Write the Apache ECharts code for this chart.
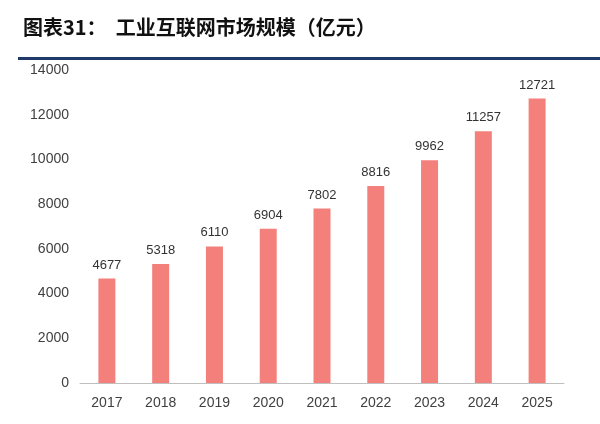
<!DOCTYPE html>
<html><head><meta charset="utf-8">
<script src="https://cdn.jsdelivr.net/npm/echarts@6/dist/echarts.min.js"></script>
<style>html,body{margin:0;padding:0;background:#fff}#c{width:600px;height:424px}</style>
</head><body><div id="c"></div>
<script>
const categories = ['2017','2018','2019','2020','2021','2022','2023','2024','2025'];
const marketSize = [4677,5318,6110,6904,7802,8816,9962,11257,12721];
const titleText = '图表31：  工业互联网市场规模（亿元）';

const chart = echarts.init(document.getElementById('c'));
chart.setOption({
  animation:false,
  backgroundColor:'#fff',
  title:{text:titleText,left:18,top:12,textStyle:{fontFamily:'Noto Sans CJK SC',fontSize:20,fontWeight:'bold',color:'#111'}},
  graphic:[{type:'rect',shape:{x:18,y:57,width:582,height:3},style:{fill:'#1f3a68'}}],
  grid:{left:80,right:36,top:70,bottom:41},
  xAxis:{type:'category',data:categories,
    axisLine:{lineStyle:{color:'#bfbfbf'}},axisTick:{show:false},
    axisLabel:{color:'#404040',fontSize:14,fontFamily:'Liberation Sans',margin:13}},
  yAxis:{type:'value',min:0,max:14000,interval:2000,
    axisLine:{show:false},axisTick:{show:false},splitLine:{show:false},
    axisLabel:{color:'#404040',fontSize:14,fontFamily:'Liberation Sans',margin:11,formatter:v=>String(v)}},
  series:[{type:'bar',data:marketSize,barWidth:17,
    itemStyle:{color:'#f4807c'},
    label:{show:true,position:'top',color:'#333',fontSize:13,fontFamily:'Liberation Sans',distance:7,formatter:p=>String(p.value)}}]
});
</script></body></html>
